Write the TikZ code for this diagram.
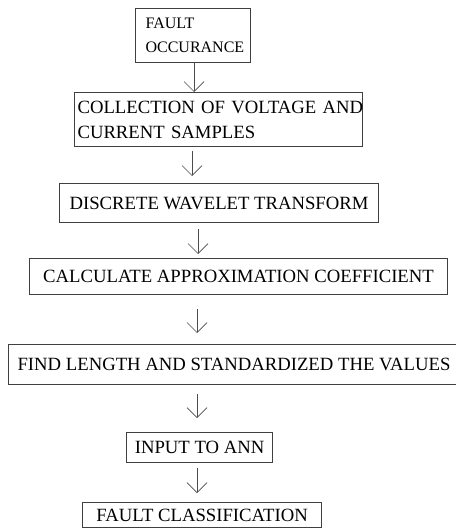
\documentclass[tikz,border=0pt]{standalone}
\usepackage{fontspec}
\setmainfont{Liberation Serif}
\usetikzlibrary{arrows.meta}
\begin{document}
\begin{tikzpicture}[x=1pt,y=-1pt,
  box/.style={draw=black!75, line width=1.1pt, fill=white, inner sep=0pt, anchor=north west,
    font=\fontsize{18.7}{24.5}\selectfont, text=black},
  lbox/.style={box, align=left},
  cbox/.style={box, align=center},
  arr/.style={draw=black!70, line width=0.7pt, -{Straight Barb[length=10pt,width=20pt,line width=0.7pt]}}]
\useasboundingbox[fill=white] (0,0) rectangle (455,529);
% boxes
\node[lbox, minimum width=115pt, minimum height=54pt, inner xsep=10pt, text width=95pt,
  font=\fontsize{16}{23.5}\selectfont] (b1) at (135,8) {FAULT\\OCCURANCE};
\node[lbox, minimum width=288pt, minimum height=54pt, inner xsep=3pt, text width=282pt,
  font=\fontsize{18.7}{25}\selectfont] (b2) at (74,92) {\mbox{COLLECTION OF VOLTAGE AND}\\CURRENT SAMPLES};
\node[cbox, minimum width=319pt, minimum height=39pt] (b3) at (59,183) {DISCRETE WAVELET TRANSFORM};
\node[cbox, minimum width=418pt, minimum height=36pt] (b4) at (29,258) {CALCULATE APPROXIMATION COEFFICIENT};
\node[cbox, minimum width=451pt, minimum height=40pt] (b5) at (8,344) {FIND LENGTH AND STANDARDIZED THE VALUES};
\node[cbox, minimum width=146pt, minimum height=30pt] (b6) at (126,432) {INPUT TO ANN};
\node[cbox, minimum width=239pt, minimum height=25pt] (b7) at (82,502) {FAULT CLASSIFICATION};
% arrow x positions
\coordinate (x1) at (194,0);
\coordinate (x2) at (192,0);
\coordinate (x3) at (198,0);
\coordinate (x4) at (197,0);
% arrows
\draw[arr] (b1.south -| x1) -- (b2.north -| x1);
\draw[arr, shorten <=4pt, shorten >=7pt] (b2.south -| x2) -- (b3.north -| x2);
\draw[arr, shorten <=6pt, shorten >=4pt] (b3.south -| x3) -- (b4.north -| x3);
\draw[arr, shorten <=14pt, shorten >=11pt] (b4.south -| x4) -- (b5.north -| x4);
\draw[arr, shorten <=9pt, shorten >=14pt] (b5.south -| x4) -- (b6.north -| x4);
\draw[arr, shorten <=5pt, shorten >=9pt] (b6.south -| x4) -- (b7.north -| x4);
\end{tikzpicture}
\end{document}
